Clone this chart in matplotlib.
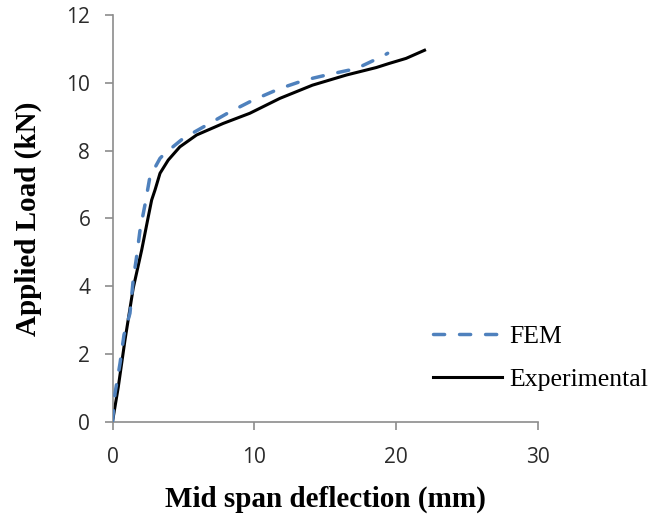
import matplotlib
matplotlib.use("Agg")
import matplotlib.pyplot as plt

# Experimental curve (mid span deflection mm, load kN)
exp_x = [0.0, 0.41, 0.88, 1.46, 2.06, 2.5, 2.76, 3.0, 3.35, 3.93, 4.75, 5.93, 7.8,
         9.68, 11.8, 14.1, 16.5, 18.6, 19.5, 20.7, 22.0]
exp_y = [0.0, 1.03, 2.41, 3.94, 5.07, 6.0, 6.54, 6.84, 7.33, 7.72, 8.11, 8.46, 8.8,
         9.1, 9.54, 9.93, 10.23, 10.45, 10.57, 10.72, 10.96]

# FEM curve
fem_x = [0.0, 0.18, 0.53, 0.81, 1.23, 1.46, 1.7, 1.94, 2.29, 2.64, 3.35, 3.7, 4.99,
         6.63, 8.27, 9.92, 11.8, 13.56, 15.3, 17.2, 19.07, 19.4]
fem_y = [0.0, 0.84, 1.72, 2.56, 3.2, 4.18, 4.87, 5.65, 6.4, 7.23, 7.77, 7.92, 8.36,
         8.75, 9.14, 9.49, 9.83, 10.08, 10.25, 10.42, 10.79, 10.87]

x_ticks = [0, 10, 20, 30]
y_ticks = [0, 2, 4, 6, 8, 10, 12]

fig = plt.figure(figsize=(6.52, 5.2), dpi=100)
ax = fig.add_axes([112.5/652, 98.3/520, 425.5/652, 406.7/520])

ax.plot(fem_x, fem_y, color="#4F81BD", lw=2.5, ls=(0, (3.2, 4.3)),
        dash_capstyle="round", solid_joinstyle="round", label="FEM", zorder=3)
ax.plot(exp_x, exp_y, color="black", lw=2.2, solid_joinstyle="round",
        label="Experimental", zorder=2)

ax.set_xlim(0, 30)
ax.set_ylim(0, 12)
ax.set_xticks(x_ticks)
ax.set_yticks(y_ticks)
for s in ["top", "right"]:
    ax.spines[s].set_visible(False)
for s in ["left", "bottom"]:
    ax.spines[s].set_color("#8c8c8c")
    ax.spines[s].set_linewidth(1.2)
ax.tick_params(direction="out", length=6, color="#8c8c8c", width=1.2,
               labelsize=15, labelcolor="#2b2b2b")
ax.tick_params(axis="x", pad=12)
ax.tick_params(axis="y", pad=10)
for lab in ax.get_xticklabels() + ax.get_yticklabels():
    lab.set_family("Open Sans")

ax.set_xlabel("Mid span deflection (mm)", family="Liberation Serif", weight="bold",
              fontsize=21, va="center", ha="center")
ax.set_ylabel("Applied Load (kN)", family="Liberation Serif", weight="bold",
              fontsize=21, va="center", ha="center")
ax.xaxis.set_label_coords(0.5, (422 - 500) / 406.7)
ax.yaxis.set_label_coords((28 - 112.5) / 425.5, 0.5)

leg = ax.legend(loc="center left", bbox_to_anchor=(433 / 652, (520 - 358) / 520),
                bbox_transform=fig.transFigure, frameon=False,
                prop={"family": "Liberation Serif", "size": 18.5},
                handlelength=2.7, handletextpad=0.25, labelspacing=0.75,
                borderaxespad=0, borderpad=0)

fig.savefig("out.png", dpi=100, facecolor="white")
